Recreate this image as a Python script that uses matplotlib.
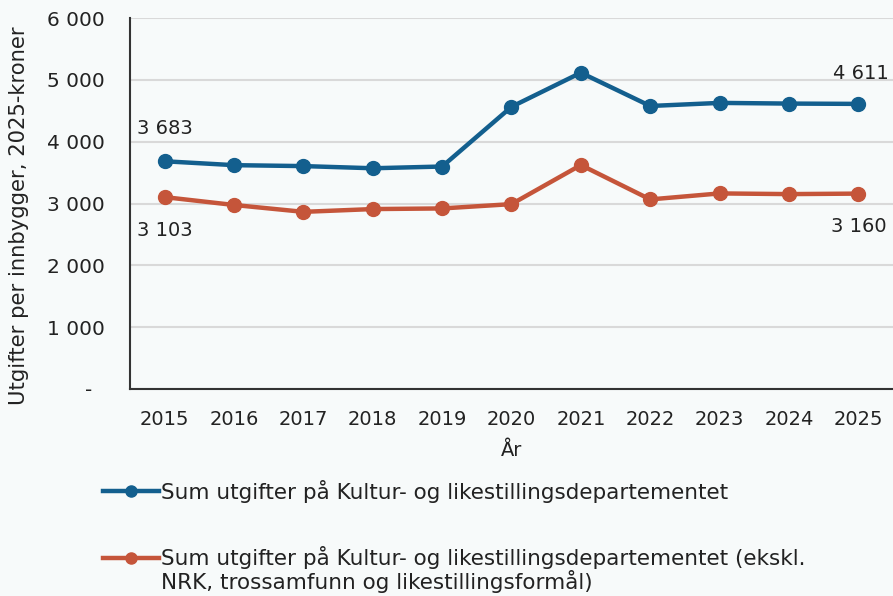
import matplotlib.pyplot as plt
from matplotlib.ticker import FixedLocator

years = [2015, 2016, 2017, 2018, 2019, 2020, 2021, 2022, 2023, 2024, 2025]
total = [3683, 3620, 3605, 3570, 3598, 4564, 5115, 4577, 4627, 4616, 4611]
excl = [3103, 2976, 2865, 2910, 2920, 2990, 3622, 3066, 3163, 3152, 3160]
yticks = [0, 1000, 2000, 3000, 4000, 5000, 6000]
ylabels = ['-  ', '1 000', '2 000', '3 000', '4 000', '5 000', '6 000']

label_total = 'Sum utgifter på Kultur- og likestillingsdepartementet'
label_excl = 'Sum utgifter på Kultur- og likestillingsdepartementet (ekskl.'
label_excl2 = 'NRK, trossamfunn og likestillingsformål)'

blue = '#135f8e'
red = '#c5553a'
bg = '#f7fafa'
txt = '#222222'

plt.rcParams['font.family'] = ['DejaVu Sans']

fig = plt.figure(figsize=(8.93, 5.96), dpi=100, facecolor=bg)
ax = fig.add_axes([130/893, 1-389/596, 1-130/893, (389-18)/596])
ax.set_facecolor(bg)

ax.plot(years, total, color=blue, lw=3.2, marker='o', ms=10, label=label_total, zorder=3)
ax.plot(years, excl, color=red, lw=3.2, marker='o', ms=10, label=label_excl, zorder=3)

fs = 14
ax.annotate('3 683', (years[0], total[0]), xytext=(0, 17), textcoords='offset points',
            ha='center', va='bottom', fontsize=fs, color=txt)
ax.annotate('3 103', (years[0], excl[0]), xytext=(0, -17), textcoords='offset points',
            ha='center', va='top', fontsize=fs, color=txt)
ax.annotate('4 611', (years[-1], total[-1]), xytext=(2, 15), textcoords='offset points',
            ha='center', va='bottom', fontsize=fs, color=txt)
ax.annotate('3 160', (years[-1], excl[-1]), xytext=(0, -17), textcoords='offset points',
            ha='center', va='top', fontsize=fs, color=txt)

ax.set_xlim(2014.5, 2025.5)
ax.set_ylim(0, 6000)
ax.set_xticks(years)
ax.set_xticklabels([str(y) for y in years], fontsize=fs)
ax.yaxis.set_major_locator(FixedLocator(yticks))
ax.set_yticklabels(ylabels, fontsize=14.5)
ax.tick_params(length=0, colors=txt)
ax.tick_params(axis='x', pad=15)
ax.tick_params(axis='y', pad=18)
ax.grid(axis='y', color='#d9d9d9', lw=1.5, zorder=0)
ax.set_axisbelow(True)
for s in ['top', 'right']:
    ax.spines[s].set_visible(False)
for s in ['left', 'bottom']:
    ax.spines[s].set_color('#333333')
    ax.spines[s].set_linewidth(1.5)

ax.set_xlabel('År', fontsize=fs, color=txt, labelpad=9)
ax.set_ylabel('Utgifter per innbygger, 2025-kroner', fontsize=15.2, color=txt)
ax.yaxis.set_label_coords(-101/763, 0.468)

leg = fig.legend(loc='upper left', bbox_to_anchor=(103/893, 1-480/596), frameon=False,
                 fontsize=15.5, handlelength=2.6, handletextpad=0.1, labelspacing=2.0,
                 borderpad=0, borderaxespad=0, markerscale=0.8)
for t in leg.get_texts():
    t.set_color(txt)

# second line of the long legend label, placed right under its first line
fig.canvas.draw()
bb = leg.get_texts()[1].get_window_extent()
fig.text(bb.x0 / 893, (bb.y0 - 1) / 596, label_excl2, fontsize=15.5, color=txt,
         ha='left', va='top')

fig.savefig('out.png', dpi=100, facecolor=bg)
